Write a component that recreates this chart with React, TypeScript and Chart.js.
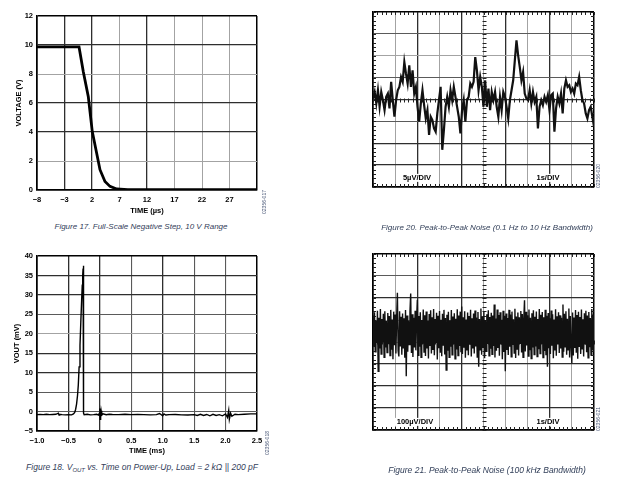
import React, { useEffect, useRef } from 'react';
import { Chart, registerables } from 'chart.js';

Chart.register(...registerables);

const FONT = "'Liberation Sans', Arial, Helvetica, sans-serif";

// ---------- Figure 17: full-scale negative step ----------
const stepTime = [-8, -0.36, 0.42, 1.33, 2.05, 2.85, 3.45, 4.36, 5.27, 6.49, 8.5, 32];
const stepVolts = [9.87, 9.87, 8.15, 6.43, 4.03, 2.54, 1.4, 0.59, 0.25, 0.07, 0.02, 0.02];

// ---------- Figure 18: VOUT vs time on power-up ----------
const puTime = [-1.0, -0.95, -0.9, -0.85, -0.8, -0.75, -0.7, -0.66, -0.65, -0.64, -0.6, -0.55, -0.5, -0.45, -0.42, -0.4,
  -0.385, -0.37, -0.355, -0.343, -0.33, -0.316, -0.303, -0.289, -0.28, -0.273, -0.267, -0.263, -0.259, -0.257, -0.25,
  -0.2, -0.15, -0.1, -0.05, -0.02, -0.01, 0.0, 0.005, 0.01, 0.015, 0.02, 0.03, 0.05, 0.1, 0.15, 0.2, 0.3, 0.4, 0.5,
  0.6, 0.7, 0.8, 0.9, 0.95, 1.0, 1.02, 1.05, 1.1, 1.2, 1.3, 1.4, 1.5, 1.55, 1.6, 1.65, 1.7, 1.75, 1.8, 1.85, 1.9,
  1.95, 2.0, 2.03, 2.05, 2.06, 2.08, 2.1, 2.15, 2.2, 2.3, 2.4, 2.5];
const puVolts = [-0.8, -0.75, -0.8, -0.7, -0.8, -0.75, -0.7, -0.4, -0.9, -0.7, -0.8, -0.85, -0.8, -0.85, -0.6, -0.2,
  0.6, 2.0, 4.2, 6.8, 11.5, 17.0, 23.0, 29.0, 32.5, 35.0, 36.8, 37.5, 37.0, -0.4, -0.8,
  -0.7, -0.85, -0.8, -0.7, -0.9, -0.5, 0.8, -2.0, 0.6, -1.2, 0.2, -0.9, -0.6, -0.8, -0.7, -0.75, -0.8, -0.7, -0.8,
  -0.75, -0.8, -0.85, -0.8, -0.5, -1.1, -0.6, -0.9, -0.8, -0.75, -0.85, -0.9, -0.8, -1.0, -0.7, -1.0, -0.75, -1.1, -0.7, -1.0, -0.8,
  -1.1, -0.6, -1.5, 0.3, -2.0, -0.4, -1.2, -0.7, -0.8, -0.7, -0.6, -0.6];

// ---------- Figure 20: 0.1 Hz to 10 Hz noise (µV, 10 s record) ----------
const lowNoise = [
  0.23, 1.74, -0.91, 2.12, -1.67, 1.74, -0.15, -2.42, 0.61, 1.36,
  -2.05, 4.02, -0.15, -3.94, -0.15, 2.12, 2.88, 5.15, 4.02, 8.56,
  5.91, 3.64, 7.8, 2.88, 6.67, 1.36, 2.88, -1.67, -5.08, -0.91,
  2.12, -1.29, -4.32, -2.42, -8.11, -3.94, -4.7, -6.59, -7.35, -3.18,
  -0.15, 2.88, -11.5, -6.97, -1.67, 0.61, -1.67, 2.12, -0.15, 2.88,
  0.61, -1.67, -3.94, -7.73, -2.42, -0.15, -5.08, -0.15, 0.61, 3.64,
  2.88, 4.02, 9.7, 6.67, 2.12, 5.15, 2.88, -1.67,
  4.39, -1.67, 2.5, -2.42, 1.74, -0.15, 1.74, -1.67, -3.94, 0.61,
  -2.42, 1.74, 0.61, -1.67, -4.32, -0.15, 2.12, 4.39, 8.94, 13.5,
  10.1, 7.42, 4.39, 6.29, 1.36, 0.23, -0.15, 2.12, -0.91, 1.74,
  -0.53, 0.61, -6.59, -1.67, -0.15, -1.29, 0.61, -0.53, 0.98, -2.42,
  0.98, 1.36, -7.35, -2.05, 0.61, -0.91, 1.36, -3.18, 2.5, 4.39,
  2.88, 3.26, 1.74, 2.5, 1.36, 3.64, 3.26, 5.15, 2.12, -0.15,
  -0.91, -3.18, -4.32, -2.42, -1.67, -3.94, -6.21,
];

// ---------- Figure 21: 100 kHz bandwidth noise (µV, 10 s record) ----------
const wideNoise = [
  120, -20, 135, -45, 98, -5, 142, -133, 110, -30, 150, -55, 105, 0, 128, -70, 140, -25, 95, -48,
  132, -10, 118, -62, 146, -35, 102, -78, 138, -15, 125, -52, 112, 224, -40, -66, 140, -20, 115, -58,
  130, -30, 108, -72, 145, -156, 120, -44, 98, -12, 136, 220, -50, 126, -68, 110, -25, 142, -38, 104,
  192, -60, 118, -22, 135, -70, 100, -8, 148, -46, 122, -64, 139, -30, 96, -75, 127, -18, 144, -52,
  112, -36, 150, -60, 105, -5, 133, -80, 119, -28, 141, -49, 101, -65, 128, -14, 146, -57, 109, -128,
  124, -40, 137, -70, 99, -22, 145, -58, 116, -10, 131, -76, 106, -34, 149, -62, 121, -18, 138, -47,
  161, -55, 113, -26, 140, -72, 102, -38, 134, -60, 118, -12, 147, -66, 108, -30, 129, -52, 143, -20,
  111, -68, 136, -112, 104, -35, 152, -58, 117, -24, 139, -74, 100, -42, 126, -9, 144, -63, 114, -31,
  133, -56, 120, -18, 170, -70, 107, -40, 148, -27, 123, -62, 135, -11, 101, -78, 142, -45, 119, -133,
  130, -36, 109, -59, 146, -21, 125, -67, 138, -14, 103, -50, 151, -73, 116, -32, 134, -61, 112, -6,
  141, -48, 127, -69, 106, 190, -43, 137, -16, 122, -64, 148, -37, 110, -75, 131, -25, 144, -57, 115,
  -20, 139, -66, 104, -33, 150, -52, 124, -9, 136, -71, 113, -41, 147, -60, 119, -112, 132, -28, 108,
  -55, 143, -17, 126, -74, 102, -39, 149, -63, 117, -11, 135, -50, 121, -30, 110, -68, 170, -44, 128,
  -22, 140, -58, 106, -35, 152, -70, 118, -13, -97, 134, -61, 111, -27, 145, -49, 123, -76, 137, -19,
  114, -54, 148, -31, 103, -66, 131, -8, 142, -47, 120, -72, 136, -24, 109, -59, 150, -38, 125, -45,
];

const RECORD_SECONDS = 10;

const minus = (s: string) => s.replace('-', '\u2212');
const near = (a: number, b: number) => Math.abs(a - b) < 1e-6;

function gridStyle(darkVals: number[], midVals: number[] = []) {
  const pick = (ctx: any, edge: any, dark: any, mid: any, light: any) => {
    const v = ctx.tick ? ctx.tick.value : NaN;
    const s = ctx.scale;
    if (near(v, s.min) || near(v, s.max)) return edge;
    if (darkVals.some((d) => near(d, v))) return dark;
    if (midVals.some((d) => near(d, v))) return mid;
    return light;
  };
  return {
    color: (ctx: any) => pick(ctx, '#000', '#2e2e2e', '#5a5a5a', '#a3a3a3'),
    lineWidth: (ctx: any) => pick(ctx, 1.5, 1.3, 1.1, 1),
    drawTicks: false,
  };
}

const border = { display: true, color: '#000', width: 1.5 };
const tickFont = { family: FONT, size: 7.5, weight: 'bold' as const };

const scopeMinorTicks = {
  id: 'scopeMinorTicks',
  beforeDatasetsDraw(chart: any) {
    const { ctx, chartArea: a } = chart;
    const xs = chart.scales.x;
    const ys = chart.scales.y;
    const xStep = xs.options.ticks.stepSize / 5;
    const yStep = ys.options.ticks.stepSize / 5;
    const cx = Math.round(xs.getPixelForValue((xs.min + xs.max) / 2)) + 0.5;
    const cy = Math.round(ys.getPixelForValue((ys.min + ys.max) / 2)) + 0.5;
    ctx.save();
    ctx.strokeStyle = '#222';
    ctx.lineWidth = 1;
    ctx.beginPath();
    for (let v = xs.min; v <= xs.max + 1e-9; v += xStep) {
      const p = Math.round(xs.getPixelForValue(v)) + 0.5;
      ctx.moveTo(p, a.top); ctx.lineTo(p, a.top + 3);
      ctx.moveTo(p, a.bottom - 3); ctx.lineTo(p, a.bottom);
      ctx.moveTo(p, cy - 2); ctx.lineTo(p, cy + 2);
    }
    for (let v = ys.min; v <= ys.max + 1e-9; v += yStep) {
      const p = Math.round(ys.getPixelForValue(v)) + 0.5;
      ctx.moveTo(a.left, p); ctx.lineTo(a.left + 3, p);
      ctx.moveTo(a.right - 3, p); ctx.lineTo(a.right, p);
      ctx.moveTo(cx - 2, p); ctx.lineTo(cx + 2, p);
    }
    ctx.stroke();
    ctx.restore();
  },
};

const common = {
  responsive: false,
  animation: false,
  devicePixelRatio: 1,
  events: [],
  plugins: { legend: { display: false }, tooltip: { enabled: false } },
  elements: { point: { radius: 0 }, line: { tension: 0 } },
};

function makeStepConfig(): any {
  return {
    type: 'line',
    data: {
      datasets: [{
        data: stepTime.map((t, i) => ({ x: t, y: stepVolts[i] })),
        borderColor: '#000', borderWidth: 2.8, fill: false,
      }],
    },
    options: {
      ...common,
      layout: { padding: { left: 0, top: 16, right: 23, bottom: 0 } },
      scales: {
        x: {
          type: 'linear', min: -8, max: 32,
          ticks: { stepSize: 5, autoSkip: false, maxRotation: 0, padding: 5, color: '#000', font: tickFont,
            callback: (v: number) => (near(v, 32) ? '' : minus(String(v))) },
          grid: gridStyle([-3, 2, 12]),
          border,
          title: { display: true, text: 'TIME (µs)', color: '#000', font: tickFont, padding: { top: 0, bottom: 0 } },
          afterFit: (s: any) => { s.height = 25; },
        },
        y: {
          type: 'linear', min: 0, max: 12,
          ticks: { stepSize: 2, padding: 4, color: '#000', font: tickFont },
          grid: gridStyle([4, 6, 10]),
          border,
          title: { display: true, text: 'VOLTAGE (V)', color: '#000', font: tickFont, padding: { top: 14, bottom: 0 } },
          afterFit: (s: any) => { s.width = 37; },
        },
      },
    },
  };
}

function makePowerUpConfig(): any {
  return {
    type: 'line',
    data: {
      datasets: [{
        data: puTime.map((t, i) => ({ x: t, y: puVolts[i] })),
        borderColor: '#000', borderWidth: 1.4, fill: false,
      }],
    },
    options: {
      ...common,
      layout: { padding: { left: 0, top: 16, right: 23, bottom: 0 } },
      scales: {
        x: {
          type: 'linear', min: -1, max: 2.5,
          ticks: { stepSize: 0.5, autoSkip: false, maxRotation: 0, padding: 5, color: '#000', font: tickFont,
            callback: (v: number) => (near(v, 0) ? '0' : minus(v.toFixed(1))) },
          grid: gridStyle([-0.5, 0, 1.0], [0.5, 1.5, 2.0]),
          border,
          title: { display: true, text: 'TIME (ms)', color: '#000', font: tickFont, padding: { top: 0, bottom: 0 } },
          afterFit: (s: any) => { s.height = 24; },
        },
        y: {
          type: 'linear', min: -5, max: 40,
          ticks: { stepSize: 5, padding: 4, color: '#000', font: tickFont,
            callback: (v: number) => minus(String(v)) },
          grid: gridStyle([35, 30, 15, 10], [25, 5, 0]),
          border,
          title: { display: true, text: 'VOUT (mV)', color: '#000', font: tickFont, padding: { top: 12, bottom: 0 } },
          afterFit: (s: any) => { s.width = 37; },
        },
      },
    },
  };
}

function makeScopeConfig(values: number[], yMax: number, yStep: number, width: number, darkX: number[], darkY: number[], midY: number[]): any {
  const n = values.length;
  return {
    type: 'line',
    data: {
      datasets: [{
        data: values.map((v, i) => ({ x: (i * RECORD_SECONDS) / (n - 1), y: v })),
        borderColor: '#111', borderWidth: width, fill: false,
      }],
    },
    options: {
      ...common,
      layout: { padding: { left: 7, top: 7, right: 7, bottom: 7 } },
      scales: {
        x: {
          type: 'linear', min: 0, max: RECORD_SECONDS,
          ticks: { display: false, stepSize: 1 },
          grid: gridStyle(darkX),
          border,
          afterFit: (s: any) => { s.height = 0; },
        },
        y: {
          type: 'linear', min: -yMax, max: yMax,
          ticks: { display: false, stepSize: yStep },
          grid: gridStyle(darkY, midY),
          border,
          afterFit: (s: any) => { s.width = 0; },
        },
      },
    },
    plugins: [scopeMinorTicks],
  };
}

function ChartBox({ left, top, width, height, make }: any) {
  const ref = useRef<HTMLCanvasElement>(null);
  useEffect(() => {
    const chart = new Chart(ref.current as HTMLCanvasElement, make());
    return () => chart.destroy();
  }, [make]);
  return (
    <canvas ref={ref} width={width} height={height}
      style={{ position: 'absolute', left, top, width, height }} />
  );
}

const Caption = ({ x, y, size, children }: any) => (
  <div style={{ position: 'absolute', left: x, top: y, transform: 'translate(-50%, -50%)', whiteSpace: 'nowrap',
    fontFamily: FONT, fontStyle: 'italic', fontSize: size, color: '#33405a', lineHeight: 1 }}>
    {children}
  </div>
);

const Code = ({ x, y, text }: any) => (
  <div style={{ position: 'absolute', left: x, top: y, transform: 'translate(-50%, -50%) rotate(-90deg)', whiteSpace: 'nowrap',
    fontFamily: FONT, fontSize: 5, color: '#4a5878', lineHeight: 1 }}>
    {text}
  </div>
);

const DivLabel = ({ x, y, text }: any) => (
  <div style={{ position: 'absolute', left: x, top: y, transform: 'translate(-50%, -50%)', whiteSpace: 'nowrap',
    fontFamily: FONT, fontWeight: 'bold', fontSize: 7.5, color: '#000', background: '#fff', padding: '0 2px', lineHeight: 1.1 }}>
    {text}
  </div>
);

const makeLow = () => makeScopeConfig(lowNoise, 20, 5, 2.2, [2, 4, 6, 8], [0, -10, -15], [15, 5, -5]);
const makeWide = () => makeScopeConfig(wideNoise, 400, 100, 1.4, [2, 4, 8], [200, -100, -200, -300], [300]);

export default function App() {
  return (
    <div style={{ position: 'absolute', left: 0, top: 0, width: 620, height: 486, background: '#fff', overflow: 'hidden' }}>
      <ChartBox left={0} top={0} width={280} height={215} make={makeStepConfig} />
      <ChartBox left={0} top={240} width={280} height={215} make={makePowerUpConfig} />
      <ChartBox left={366} top={5} width={235} height={189} make={makeLow} />
      <ChartBox left={366} top={247} width={235} height={190} make={makeWide} />

      <DivLabel x={417} y={178} text="5µV/DIV" />
      <DivLabel x={548} y={178} text="1s/DIV" />
      <DivLabel x={415} y={422} text="100µV/DIV" />
      <DivLabel x={548} y={422} text="1s/DIV" />

      <Code x={264} y={202} text="02356-017" />
      <Code x={598} y={176} text="02356-020" />
      <Code x={267} y={443} text="02356-018" />
      <Code x={598} y={419} text="02356-021" />

      <Caption x={141} y={227} size={8}>Figure 17. Full-Scale Negative Step, 10 V Range</Caption>
      <Caption x={487} y={228} size={8}>Figure 20. Peak-to-Peak Noise (0.1 Hz to 10 Hz Bandwidth)</Caption>
      <Caption x={142} y={467} size={8.5}>
        Figure 18. V<span style={{ fontSize: '70%', position: 'relative', top: 2 }}>OUT</span> vs. Time on Power-Up, Load = 2 kΩ || 200 pF
      </Caption>
      <Caption x={487} y={470} size={8.5}>Figure 21. Peak-to-Peak Noise (100 kHz Bandwidth)</Caption>
    </div>
  );
}
